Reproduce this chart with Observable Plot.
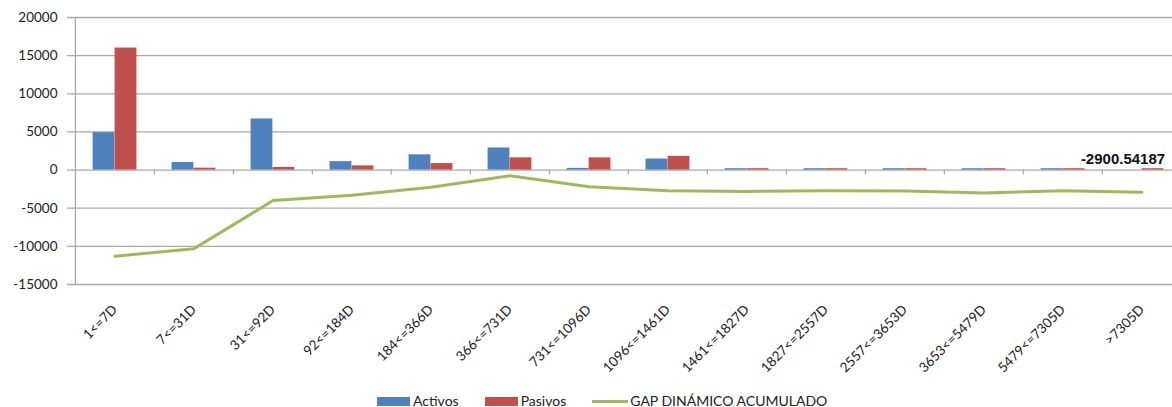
<!DOCTYPE html>
<html><head><meta charset="utf-8">
<script src="https://cdn.jsdelivr.net/npm/d3@7"></script>
<script src="https://cdn.jsdelivr.net/npm/@observablehq/plot@0.6"></script>
<style>
html,body{margin:0;padding:0;background:#fff;}
body{width:1172px;height:407px;overflow:hidden;position:relative;font-family:Lato,"Liberation Sans",Arial,sans-serif;}
#legend{position:absolute;left:377px;top:394px;display:flex;align-items:center;font-size:14px;color:#222;white-space:nowrap;line-height:14px;}
.item{display:flex;align-items:center;margin-right:26px;}
.sw{width:33px;height:9px;margin-right:3px;}
.ln{width:36px;height:3px;margin-right:2px;}
</style></head><body>
<div id="chart"></div>
<div id="legend"></div>
<script>
const categories = ["1<=7D","7<=31D","31<=92D","92<=184D","184<=366D","366<=731D","731<=1096D","1096<=1461D","1461<=1827D","1827<=2557D","2557<=3653D","3653<=5479D","5479<=7305D",">7305D"];
const activos = [4900, 1000, 6700, 1100, 2000, 2900, 220, 1450, 180, 180, 180, 180, 180, 0];
const pasivos = [16000, 250, 350, 550, 850, 1600, 1600, 1800, 180, 180, 180, 180, 180, 180];
const gap = [-11300, -10300, -4000, -3300, -2250, -750, -2200, -2700, -2800, -2700, -2750, -3000, -2700, -2900.54187];
const yTicks = [-15000, -10000, -5000, 0, 5000, 10000, 15000, 20000];
const seriesNames = ["Activos", "Pasivos", "GAP DINÁMICO ACUMULADO"];
const seriesColors = ["#4F81BD", "#C0504D", "#9BBB59"];

const rows = categories.map((c, i) => ({c, a: activos[i], p: pasivos[i], g: gap[i]}));
const xRange = [73, 1182];
const step = (xRange[1] - xRange[0]) / categories.length;
const gridColor = "#a9a9a9";

const chart = Plot.plot({
  width: 1172, height: 385,
  marginLeft: 67, marginRight: 0, marginTop: 17, marginBottom: 101,
  style: {fontFamily: "Lato, 'Liberation Sans', Arial, sans-serif", fontSize: "13px", color: "#222", background: "#fff", overflow: "visible"},
  x: {domain: categories, range: xRange, padding: 0, axis: null},
  y: {domain: [-15000, 20000], axis: null},
  marks: [
    Plot.ruleY(yTicks, {stroke: gridColor, strokeWidth: 1.3}),
    Plot.ruleX([categories[0]], {dx: -step / 2, y1: -15000, y2: 20000, stroke: gridColor, strokeWidth: 1.3}),
    Plot.ruleX(categories.slice(1), {dx: -step / 2, y1: 0, y2: -650, stroke: gridColor, strokeWidth: 1.3}),
    Plot.barY(rows, {x: "c", y: "a", fill: seriesColors[0], insetLeft: step * 0.222, insetRight: step * 0.5}),
    Plot.barY(rows, {x: "c", y: "p", fill: seriesColors[1], insetLeft: step * 0.5, insetRight: step * 0.222}),
    Plot.line(rows, {x: "c", y: "g", stroke: seriesColors[2], strokeWidth: 3, curve: "linear"}),
    Plot.text(rows.slice(-1), {x: "c", y: () => 0, text: d => d.g.toFixed(5), dx: -19, dy: -11, fontWeight: "bold", fontSize: 15, fill: "#111", fontFamily: "'Liberation Sans', Arial, sans-serif"}),
    Plot.axisY({ticks: yTicks, tickSize: 0, tickPadding: 10, tickFormat: d => String(d), fontSize: 13.5, label: null}),
    Plot.axisX({ticks: categories, anchor: "bottom", tickSize: 0, tickRotate: -45, tickPadding: 23, fontSize: 13.5, label: null})
  ]
});
document.getElementById("chart").appendChild(chart);

const legend = document.getElementById("legend");
seriesNames.forEach((name, i) => {
  const item = document.createElement("div");
  item.className = "item";
  const sw = document.createElement("span");
  sw.className = i < 2 ? "sw" : "ln";
  sw.style.background = seriesColors[i];
  const t = document.createElement("span");
  t.textContent = name;
  item.appendChild(sw); item.appendChild(t);
  legend.appendChild(item);
});
</script>
</body></html>
